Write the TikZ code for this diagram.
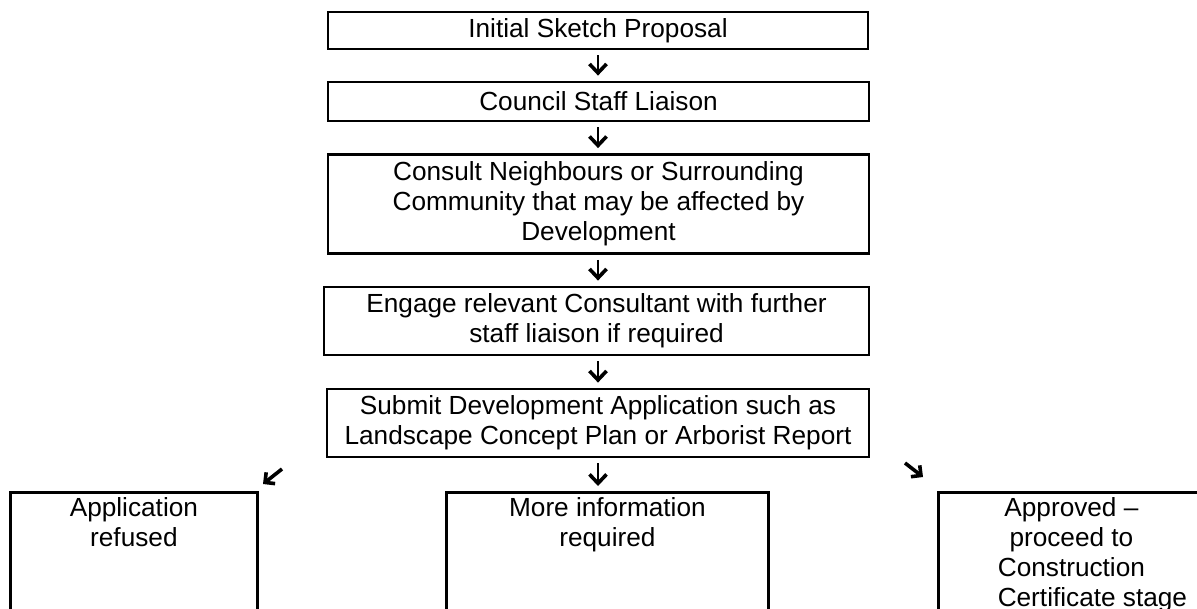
\documentclass[tikz,border=0pt]{standalone}
\usepackage{fontspec}
\setmainfont{Liberation Sans}
\usetikzlibrary{arrows.meta}
\newcommand\boxfont{\fontsize{13.1pt}{15pt}\selectfont}
\tikzset{
  box/.style={draw, line width=1.4pt, inner sep=0pt, align=center, font=\boxfont},
  openbox/.style={draw, line width=1.4pt, inner sep=0pt, anchor=north west},
  boxtext/.style={inner sep=0pt, align=center, font=\boxfont, anchor=north},
  arr/.style={line width=1.3pt, shorten <=2.5pt, shorten >=2.5pt,
    -{Straight Barb[length=4.5pt, width=8.5pt, line width=1.8pt]}},
  diagarr/.style={line width=1.8pt,
    -{Straight Barb[length=3.6pt, width=7.2pt, line width=1.8pt]}}
}
\begin{document}
\begin{tikzpicture}[x=0.5pt, y=-0.5pt]
\useasboundingbox (0,0) rectangle (1197,609);
\clip (0,0) rectangle (1197,609);
% main column
\node[box, minimum width=270pt, minimum height=18.5pt] (b1) at (598,30.5) {Initial Sketch Proposal};
\node[box, minimum width=270.5pt, minimum height=19.5pt] (b2) at (598.5,101.5) {Council Staff Liaison};
\node[box, minimum width=270.5pt, minimum height=49.5pt] (b3) at (598.5,204) {Consult Neighbours or Surrounding\\Community that may be affected by\\Development};
\node[box, minimum width=272.5pt, minimum height=34pt] (b4) at (596.5,321) {Engage relevant Consultant with further\\staff liaison if required};
\node[box, minimum width=271pt, minimum height=34pt] (b5) at (598,423) {Submit Development Application such as\\Landscape Concept Plan or Arborist Report};
% bottom boxes (cut off by the page edge)
\node[openbox, minimum width=123.5pt, minimum height=80pt] (lb) at (9,491) {};
\node[openbox, minimum width=161pt, minimum height=80pt] (mb) at (445,491) {};
\node[openbox, minimum width=133pt, minimum height=80pt] (rb) at (937,491) {};
\node[boxtext] (lt) at ([yshift=-3.2pt]lb.north) {Application\\refused};
\node[boxtext] (mt) at ([yshift=-3.2pt]mb.north) {More information\\required};
\node[boxtext] (rt) at ([yshift=-3.2pt]rb.north) {Approved --\\proceed to\\Construction\\Certificate stage\hspace*{-21pt}};
% arrows
\draw[arr] (b1.south -| b1.center) -- (b2.north -| b1.center);
\draw[arr] (b2.south -| b1.center) -- (b3.north -| b1.center);
\draw[arr] (b3.south -| b1.center) -- (b4.north -| b1.center);
\draw[arr] (b4.south -| b1.center) -- (b5.north -| b1.center);
\draw[arr] (b5.south -| b1.center) -- (mb.north -| b1.center);
\coordinate (la) at (282,469);
\coordinate (lz) at (263,484);
\coordinate (ra) at (905,463);
\coordinate (rz) at (923,477);
\draw[diagarr] (la) -- (lz);
\draw[diagarr] (ra) -- (rz);
\end{tikzpicture}
\end{document}
